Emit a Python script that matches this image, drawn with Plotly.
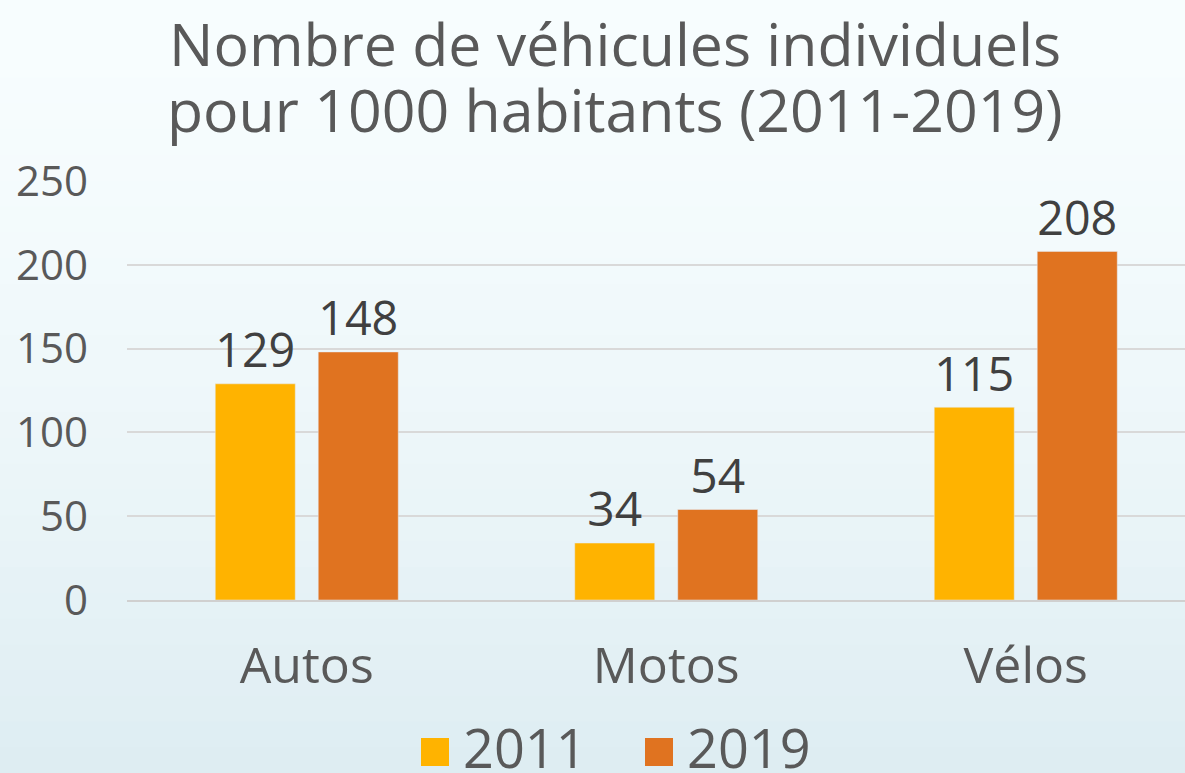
import plotly.graph_objects as go

categories = ["Autos", "Motos", "Vélos"]
series_names = ["2011", "2019"]
values_2011 = [129, 34, 115]
values_2019 = [148, 54, 208]
y_ticks = [0, 50, 100, 150, 200, 250]
title_lines = ["Nombre de véhicules individuels", "pour 1000 habitants (2011-2019)"]

colors = ["#FFB300", "#E07320"]
text_color = "#595959"
font_family = "Open Sans, Liberation Sans, Arial, sans-serif"

W, H = 1185, 773
L, R, T, B = 127, 0, 181, 173
PW, PH = W - L - R, H - T - B

def px_x(x):
    return (x - L) / PW

def px_y(y):
    return (H - B - y) / PH

fig = go.Figure()
for name, vals, col in zip(series_names, [values_2011, values_2019], colors):
    fig.add_trace(go.Bar(
        x=categories, y=vals, name=name, marker_color=col,
        text=[str(v) for v in vals], textposition="outside",
        textfont=dict(size=48, color="#404040", family=font_family),
        cliponaxis=False, showlegend=False,
    ))

# background gradient
shapes = []
n = 30
top = (247, 253, 254)
bot = (222, 237, 242)
for i in range(n):
    t = i / (n - 1)
    c = tuple(int(round(top[k] + (bot[k] - top[k]) * t ** 1.5)) for k in range(3))
    ya = i * H / n
    yb = (i + 1) * H / n + 1
    shapes.append(dict(type="rect", xref="paper", yref="paper",
                       x0=px_x(-5), x1=px_x(W + 5),
                       y0=px_y(yb), y1=px_y(ya),
                       fillcolor="rgb(%d,%d,%d)" % c, line_width=0, layer="below"))

annotations = []
# title lines
for line, yc in zip(title_lines, [43, 109]):
    annotations.append(dict(text=line, xref="paper", yref="paper",
                            x=px_x(615), y=px_y(yc), xanchor="center", yanchor="middle",
                            showarrow=False,
                            font=dict(size=59, color=text_color, family=font_family)))

# manual legend
leg_x = [421, 645]
for name, col, lx in zip(series_names, colors, leg_x):
    shapes.append(dict(type="rect", xref="paper", yref="paper",
                       x0=px_x(lx), x1=px_x(lx + 28),
                       y0=px_y(766), y1=px_y(738),
                       fillcolor=col, line_width=0))
    annotations.append(dict(text=name, xref="paper", yref="paper",
                            x=px_x(lx + 40), y=px_y(747),
                            xanchor="left", yanchor="middle", showarrow=False,
                            font=dict(size=54, color=text_color, family=font_family)))

fig.update_layout(
    width=W, height=H,
    margin=dict(l=L, r=R, t=T, b=B),
    paper_bgcolor="#f5fbfd", plot_bgcolor="rgba(0,0,0,0)",
    barmode="group", bargap=0.427, bargroupgap=0.223,
    shapes=shapes, annotations=annotations,
    font=dict(family=font_family, color=text_color),
)
fig.update_xaxes(range=[-0.5, 2.443], showline=True, linecolor="#d0d0d0", linewidth=2,
                 ticks="", tickfont=dict(size=50, color=text_color), ticklabelstandoff=21)
fig.update_yaxes(range=[0, 250], tickvals=y_ticks, showgrid=True, gridcolor="#d9d9d9",
                 gridwidth=2, zeroline=False, ticks="",
                 tickfont=dict(size=42, color=text_color), ticklabelstandoff=38)

fig.write_html("out.html", config={"displayModeBar": False},
               post_script="document.body.style.margin='0px';document.body.style.background='#f5fbfd';")
